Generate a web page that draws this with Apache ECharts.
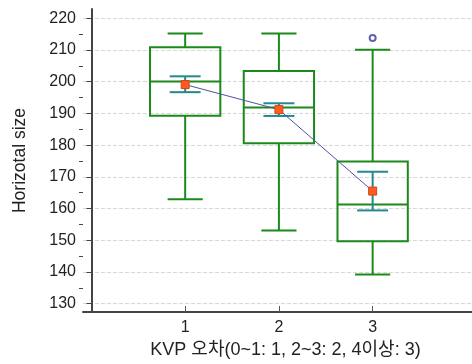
<!DOCTYPE html>
<html>
<head>
<meta charset="utf-8">
<script src="https://cdn.jsdelivr.net/npm/echarts@6/dist/echarts.min.js"></script>
<style>
  html, body {margin: 0; padding: 0; background: #fff;}
  #chart {width: 472px; height: 364px;}
</style>
</head>
<body>
<div id="chart"></div>
<script>
// groups on the x axis
const groups = [1, 2, 3];
// box plot values
const lowerWhisker = [162.9, 153.1, 139.2];
const q1 = [189.3, 180.6, 149.7];
const median = [200.1, 191.9, 161.3];
const q3 = [210.9, 203.4, 174.8];
const upperWhisker = [215.2, 215.2, 210.1];
// mean and its confidence interval
const means = [199.1, 191.2, 165.5];
const ciLow = [196.7, 189.2, 159.4];
const ciHigh = [201.7, 193.2, 171.6];
// outliers [group, value]
const outliers = [[3, 213.8]];
// tick labels
const yTicks = [130, 140, 150, 160, 170, 180, 190, 200, 210, 220];
const yMinorTicks = [135, 145, 155, 165, 175, 185, 195, 205, 215];
const xTicks = [1, 2, 3];

const FONT = "'Liberation Sans', Arial, 'Noto Sans CJK KR', sans-serif";
const GREEN = '#1a8a1a';
const TEAL = '#23898c';
const Y_MIN = 127.35, Y_MAX = 222.94;

const boxData = groups.map((g, i) => [g, lowerWhisker[i], q1[i], median[i], q3[i], upperWhisker[i]]);
const ciData = groups.map((g, i) => [g, ciLow[i], ciHigh[i]]);
const meanData = groups.map((g, i) => [g, means[i]]);

function hline(x1, x2, y, style) {
    return {type: 'line', shape: {x1: x1, y1: y, x2: x2, y2: y}, style: style};
}
function vline(x, y1, y2, style) {
    return {type: 'line', shape: {x1: x, y1: y1, x2: x, y2: y2}, style: style};
}

function renderBox(params, api) {
    const x = api.value(0);
    const cx = api.coord([x, 0])[0];
    const boxW = api.size([0.75, 0])[0];
    const capW = api.size([0.375, 0])[0];
    const yLow = api.coord([x, api.value(1)])[1];
    const yQ1 = api.coord([x, api.value(2)])[1];
    const yMed = api.coord([x, api.value(3)])[1];
    const yQ3 = api.coord([x, api.value(4)])[1];
    const yHigh = api.coord([x, api.value(5)])[1];
    const st = {stroke: GREEN, lineWidth: 2, fill: null};
    return {
        type: 'group',
        children: [
            {type: 'rect', shape: {x: cx - boxW / 2, y: yQ3, width: boxW, height: yQ1 - yQ3}, style: {stroke: GREEN, lineWidth: 2, fill: 'none'}},
            hline(cx - boxW / 2, cx + boxW / 2, yMed, st),
            vline(cx, yQ3, yHigh, st),
            hline(cx - capW / 2, cx + capW / 2, yHigh, st),
            vline(cx, yQ1, yLow, st),
            hline(cx - capW / 2, cx + capW / 2, yLow, st)
        ]
    };
}

function renderCI(params, api) {
    const x = api.value(0);
    const cx = api.coord([x, 0])[0];
    const capW = api.size([0.33, 0])[0];
    const yL = api.coord([x, api.value(1)])[1];
    const yH = api.coord([x, api.value(2)])[1];
    const st = {stroke: TEAL, lineWidth: 2, fill: null};
    return {
        type: 'group',
        children: [
            vline(cx, yL, yH, st),
            hline(cx - capW / 2, cx + capW / 2, yL, st),
            hline(cx - capW / 2, cx + capW / 2, yH, st)
        ]
    };
}

const chart = echarts.init(document.getElementById('chart'));
chart.setOption({
    animation: false,
    backgroundColor: '#fff',
    textStyle: {fontFamily: FONT},
    grid: {left: 83, right: 0, top: 9, bottom: 52},
    xAxis: {
        type: 'value',
        min: -0.09,
        max: 4.06,
        name: 'KVP 오차(0~1: 1, 2~3: 2, 4이상: 3)',
        nameLocation: 'middle',
        nameGap: 27,
        nameTextStyle: {fontSize: 18, color: '#222', fontFamily: FONT, padding: [0, 0, 0, 16]},
        axisLine: {show: true, onZero: false, lineStyle: {color: '#444', width: 2}},
        axisTick: {show: true, inside: true, length: 6, customValues: xTicks, lineStyle: {color: '#555'}},
        axisLabel: {customValues: xTicks, fontSize: 16, color: '#222', margin: 8, fontFamily: FONT},
        splitLine: {show: false}
    },
    yAxis: [{
        type: 'value',
        min: Y_MIN,
        max: Y_MAX,
        name: 'Horizotal size',
        nameLocation: 'middle',
        nameGap: 54,
        nameTextStyle: {fontSize: 17.5, color: '#222', fontFamily: FONT},
        axisLine: {show: true, lineStyle: {color: '#444', width: 2}},
        axisTick: {show: true, length: 5, customValues: yTicks, lineStyle: {color: '#444'}},
        axisLabel: {customValues: yTicks, fontSize: 16, color: '#222', margin: 7, fontFamily: FONT},
        splitLine: {show: true, lineStyle: {color: '#d8d8d8', type: 'dashed', width: 1}}
    }, {
        type: 'value',
        min: Y_MIN,
        max: Y_MAX,
        position: 'left',
        axisLine: {show: false},
        axisTick: {show: true, length: 4, customValues: yMinorTicks, lineStyle: {color: '#444'}},
        axisLabel: {show: false},
        splitLine: {show: false}
    }],
    series: [
        {
            type: 'custom',
            name: 'box',
            renderItem: renderBox,
            data: boxData,
            encode: {x: 0, y: [1, 2, 3, 4, 5]},
            z: 2
        },
        {
            type: 'custom',
            name: 'ci',
            renderItem: renderCI,
            data: ciData,
            encode: {x: 0, y: [1, 2]},
            z: 3
        },
        {
            type: 'line',
            name: 'mean',
            data: meanData,
            symbol: 'rect',
            symbolSize: 8,
            itemStyle: {color: '#ff5a1f', borderColor: '#d0461a', borderWidth: 1},
            lineStyle: {color: '#5050a8', width: 1},
            z: 4
        },
        {
            type: 'scatter',
            name: 'outlier',
            data: outliers,
            symbol: 'emptyCircle',
            symbolSize: 6,
            itemStyle: {color: '#3a3a9a', borderWidth: 1.2},
            z: 4
        }
    ]
});
</script>
</body>
</html>
